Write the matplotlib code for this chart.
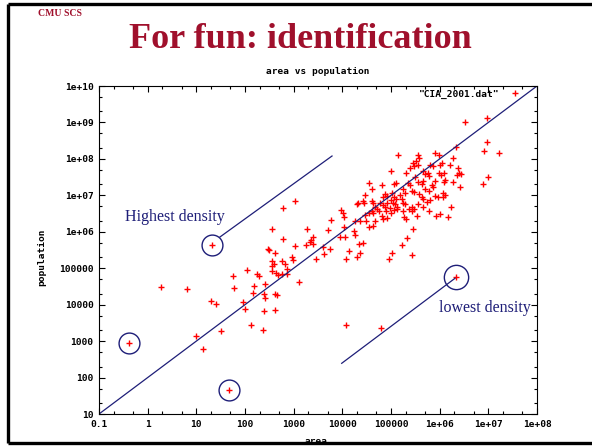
import matplotlib
matplotlib.use('Agg')
import matplotlib.pyplot as plt
from matplotlib.lines import Line2D
from matplotlib.ticker import FixedLocator, NullFormatter
import numpy as np

# log10 of area and population
AREA_LOG10 = [
    0.280, 0.802, -0.377, 0.987, 1.131, 1.301, 1.404, 1.517, 1.665, 1.316,
    1.759, 1.778, 1.955, 1.990, 2.051, 2.127, 2.191, 2.170, 2.253, 2.287,
    2.380, 2.382, 2.407, 2.415, 2.384, 2.466, 2.499, 2.548, 2.561, 2.589,
    2.561, 2.548, 2.616, 2.622, 2.651, 2.616, 2.643, 2.672, 2.766, 2.781,
    2.766, 2.822, 2.857, 2.869, 2.972, 2.992, 3.103, 2.787, 3.027, 3.268,
    3.403, 3.362, 3.335, 3.027, 3.253, 3.403, 3.609, 3.746, 3.623, 3.459,
    3.761, 3.705, 3.966, 4.007, 4.034, 4.034, 3.952, 4.054, 4.254, 4.363,
    4.486, 4.239, 4.260, 4.342, 4.430, 4.143, 4.363, 4.075, 4.295, 4.328,
    4.295, 4.418, 4.445, 4.472, 4.554, 4.609, 4.603, 4.624, 4.541, 4.472,
    4.554, 4.624, 4.671, 4.671, 4.718, 4.759, 4.958, 5.014, 5.425, 4.075,
    4.788, 6.329, 5.219, 5.335, 5.445, 5.150, 5.561, 5.581, 5.904, 5.980,
    6.335, 5.458, 5.513, 5.478, 5.390, 5.561, 4.993, 5.801, 5.856, 6.006,
    6.047, 6.212, 6.376, 6.407, 5.308, 5.663, 5.692, 5.766, 5.786, 5.992,
    6.021, 6.089, 5.493, 5.561, 5.663, 5.630, 5.102, 5.061, 5.355, 5.390,
    4.809, 5.904, 6.089, 6.417, 5.836, 5.869, 5.425, 5.472, 5.252, 5.287,
    5.704, 5.774, 6.074, 6.109, 6.074, 4.876, 4.924, 4.829, 5.014, 5.061,
    5.102, 5.184, 5.226, 5.581, 5.637, 5.663, 5.801, 5.904, 5.971, 4.774,
    4.829, 4.911, 4.993, 5.034, 5.082, 5.129, 5.252, 5.293, 5.425, 5.472,
    5.561, 5.651, 5.733, 4.876, 4.897, 4.979, 4.993, 5.061, 5.117, 5.252,
    5.376, 5.431, 5.786, 6.232, 4.841, 4.815, 4.911, 5.273, 5.308, 5.540,
    5.924, 6.006, 6.177, 6.109, 6.280, 6.432, 6.362, 6.284, 6.514, 6.978,
    6.978, 6.910, 7.225, 6.993, 6.884, 4.609, 4.636,
]
POP_LOG10 = [
    4.477, 4.438, 2.940, 3.140, 2.784, 4.101, 4.032, 3.278, 1.659, 5.638,
    4.795, 4.444, 4.082, 3.876, 4.938, 3.437, 4.507, 4.307, 4.836, 4.795,
    3.297, 3.827, 4.559, 4.178, 4.285, 5.514, 5.492, 5.199, 5.070, 5.108,
    4.932, 6.077, 5.426, 4.285, 4.252, 3.849, 4.869, 4.814, 4.850, 5.802,
    5.199, 5.108, 4.979, 4.842, 5.308, 5.218, 4.622, 6.645, 6.853, 6.069,
    5.849, 5.775, 5.720, 5.610, 5.630, 5.665, 5.591, 5.536, 5.391, 5.245,
    6.324, 6.049, 6.598, 6.524, 6.414, 6.140, 5.866, 5.866, 6.305, 6.305,
    6.305, 6.030, 5.920, 5.665, 5.684, 5.481, 5.410, 5.262, 5.300, 6.799,
    6.763, 6.853, 6.799, 7.002, 7.347, 7.183, 6.853, 6.782, 6.524, 6.469,
    6.124, 6.159, 6.305, 6.672, 6.617, 6.579, 5.245, 5.426, 5.372, 3.451,
    3.360, 4.751, 5.638, 5.830, 6.069, 8.116, 8.099, 8.025, 8.154, 8.099,
    8.319, 7.896, 7.935, 7.806, 7.751, 7.825, 7.660, 7.841, 7.806, 7.841,
    7.880, 7.825, 7.743, 7.614, 7.605, 7.660, 7.586, 7.605, 7.531, 7.605,
    7.567, 7.622, 7.512, 7.367, 7.402, 7.312, 7.347, 7.312, 7.347, 7.293,
    7.293, 7.402, 7.367, 7.221, 7.293, 7.238, 7.128, 7.092, 7.183, 7.073,
    7.183, 7.111, 7.057, 7.002, 6.947, 7.037, 6.982, 6.963, 7.057, 6.963,
    6.908, 7.018, 6.892, 7.037, 6.963, 6.908, 6.873, 6.982, 6.947, 6.799,
    6.727, 6.782, 6.873, 6.799, 6.763, 6.689, 6.799, 6.763, 6.689, 6.617,
    6.763, 6.689, 6.818, 6.689, 6.563, 6.653, 6.524, 6.598, 6.634, 6.563,
    6.617, 6.563, 6.579, 6.689, 6.360, 6.434, 6.379, 6.398, 6.360, 6.434,
    6.434, 6.489, 6.414, 7.430, 7.358, 7.594, 7.545, 8.012, 9.021, 9.115,
    8.456, 8.217, 8.162, 7.504, 7.304, 6.571, 6.508,
]

# the four countries that are circled
CIRCLED_AREA_LOG10 = [-0.377, 1.316, 1.665, 6.329]
CIRCLED_POP_LOG10 = [2.940, 5.638, 1.659, 4.751]

# reference lines (area, population)
DIAG_AREA = [0.1, 1e8]
DIAG_POP = [10, 1e10]
HIGH_AREA = [30.6, 6140]
HIGH_POP = [7.2e5, 1.2e8]
LOW_AREA = [9700, 2.07e6]
LOW_POP = [246, 5.3e4]

X_TICKS = [0.1, 1, 10, 100, 1000, 1e4, 1e5, 1e6, 1e7, 1e8]
X_LABELS = ['0.1', '1', '10', '100', '1000', '10000', '100000',
            '1e+06', '1e+07', '1e+08']
Y_TICKS = [10, 100, 1000, 1e4, 1e5, 1e6, 1e7, 1e8, 1e9, 1e10]
Y_LABELS = ['10', '100', '1000', '10000', '100000', '1e+06', '1e+07',
            '1e+08', '1e+09', '1e+10']

W, H = 592, 446
RED = '#a0102c'
NAVY = '#1e1e78'
MONO = 'DejaVu Sans Mono'
SERIF = 'Liberation Serif'


def px(x, y):
    return x / W, 1 - y / H


def slide_frame(fig):
    for xs, ys in [((8, 8), (4, 443)), ((8, 600), (4, 4)), ((8, 600), (443, 443))]:
        fig.add_artist(Line2D([x / W for x in xs], [1 - y / H for y in ys],
                              color='black', lw=2.4, solid_capstyle='butt'))
    fig.text(*px(38, 14), 'CMU SCS', color=RED, fontsize=7, fontweight='bold',
             family=SERIF, ha='left', va='center')
    fig.text(*px(300, 40), 'For fun: identification', color=RED, fontsize=26,
             fontweight='bold', family=SERIF, ha='center', va='center')


def main():
    fig = plt.figure(figsize=(W / 100, H / 100), dpi=100)
    slide_frame(fig)

    ax = fig.add_axes([99 / W, 1 - 414 / H, 438 / W, 328 / H])
    ax.set_xscale('log')
    ax.set_yscale('log')
    ax.set_xlim(0.1, 1e8)
    ax.set_ylim(10, 1e10)

    area = np.power(10.0, AREA_LOG10)
    pop = np.power(10.0, POP_LOG10)
    ax.plot(area, pop, '+', color='#ff0000', ms=5, mew=1.0, ls='none',
            label='"CIA_2001.dat"')

    ax.plot(DIAG_AREA, DIAG_POP, color=NAVY, lw=0.9)
    ax.plot(HIGH_AREA, HIGH_POP, color=NAVY, lw=0.9)
    ax.plot(LOW_AREA, LOW_POP, color=NAVY, lw=0.9)

    c_area = np.power(10.0, CIRCLED_AREA_LOG10)
    c_pop = np.power(10.0, CIRCLED_POP_LOG10)
    ax.plot(c_area[:3], c_pop[:3], 'o', ms=15, mfc='none', mec=NAVY, mew=1.0)
    ax.plot(c_area[3:], c_pop[3:], 'o', ms=17.5, mfc='none', mec=NAVY, mew=1.0)

    ax.xaxis.set_major_locator(FixedLocator(X_TICKS))
    ax.yaxis.set_major_locator(FixedLocator(Y_TICKS))
    ax.set_xticklabels(X_LABELS)
    ax.set_yticklabels(Y_LABELS)
    minor_x = [m * t for t in X_TICKS[:-1] for m in (2, 5)]
    minor_y = [m * t for t in Y_TICKS[:-1] for m in (2, 5)]
    ax.xaxis.set_minor_locator(FixedLocator(minor_x))
    ax.yaxis.set_minor_locator(FixedLocator(minor_y))
    ax.xaxis.set_minor_formatter(NullFormatter())
    ax.yaxis.set_minor_formatter(NullFormatter())
    ax.tick_params(which='both', direction='in', top=True, right=True,
                   width=0.8, color='black')
    ax.tick_params(which='major', length=4, labelsize=6.8, pad=4)
    ax.tick_params(which='minor', length=2)
    for lab in ax.get_xticklabels() + ax.get_yticklabels():
        lab.set_family(MONO)
        lab.set_fontweight('bold')
    for s in ax.spines.values():
        s.set_linewidth(0.8)

    fig.text(*px(318, 72), 'area vs population', family=MONO, fontsize=6.8,
             fontweight='bold', ha='center', va='center')
    fig.text(*px(42, 257), 'population', family=MONO, fontsize=6.8,
             fontweight='bold', ha='center', va='center', rotation=90)
    fig.text(*px(316, 441), 'area', family=MONO, fontsize=6.8,
             fontweight='bold', ha='center', va='center')

    ax.legend(loc='upper right', bbox_to_anchor=(0.9703, 1.0), frameon=False,
              markerfirst=False,
              prop={'family': MONO, 'weight': 'bold', 'size': 6.8},
              handlelength=1.2, handletextpad=1.0, borderaxespad=0.0)

    fig.text(*px(125, 217), 'Highest density', family=SERIF, fontsize=11.5,
             color=NAVY, ha='left', va='center')
    fig.text(*px(439, 308), 'lowest density', family=SERIF, fontsize=11.5,
             color=NAVY, ha='left', va='center')

    fig.savefig('out.png', dpi=100)


if __name__ == '__main__':
    main()
